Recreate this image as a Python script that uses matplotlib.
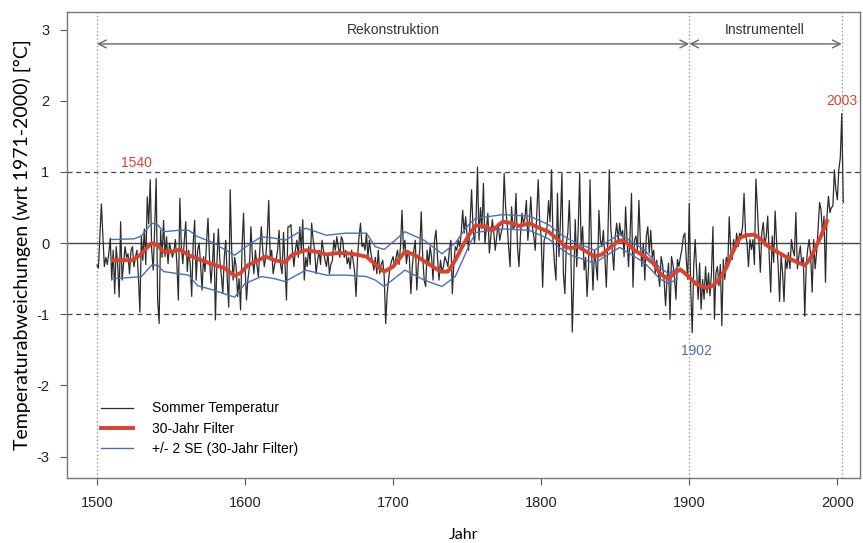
import numpy as np
import matplotlib.pyplot as plt

# Sommertemperatur, Abweichung zu 1971-2000, 1500-2004
years = np.arange(1500, 2005)
temp = [
    -0.31, -0.35, 0.10, 0.55, 0.10, -0.33, -0.20, -0.30, -0.15, 0.07,
    -0.52, -0.10, -0.71, -0.05, -0.30, -0.76, 0.30, -0.52, -0.28, -0.05,
    -0.20, -0.15, -0.43, -0.10, -0.05, -0.33, -0.20, -0.10, -0.47, -0.97,
    0.10, -0.24, 0.20, -0.30, 0.65, 0.27, 0.89, -0.10, -0.38, 0.20,
    0.91, -0.80, -1.13, 0.18, -0.20, 0.32, -0.19, 0.09, -0.29, 0.00,
    -0.10, -0.20, -0.10, 0.05, -0.30, -0.80, 0.63, -0.05, -0.29, 0.04,
    0.30, -0.40, -0.10, -0.30, -0.75, 0.00, 0.32, -0.52, -0.10, 0.00,
    -0.30, -0.66, -0.19, -0.40, 0.00, 0.35, -0.20, -0.56, -0.30, 0.14,
    -1.08, -0.30, 0.20, -0.24, -0.45, -0.71, -0.20, 0.04, -0.50, -0.90,
    0.75, -0.10, -0.52, -0.20, -0.33, -0.75, -0.50, -0.94, -0.05, 0.42,
    -0.30, -0.80, -0.50, -0.33, 0.23, -0.20, -0.43, -0.10, -0.30, -0.47,
    -0.10, 0.23, -0.10, -0.33, -0.20, 0.09, 0.60, -0.20, -0.10, -0.43,
    -0.30, -0.24, -0.10, 0.18, -0.30, -0.43, 0.15, -0.30, -0.80, 0.23,
    0.23, 0.26, -0.10, -0.33, -0.10, 0.04, -0.20, 0.23, -0.10, 0.33,
    -0.52, -0.20, -0.33, -0.05, -0.30, 0.28, 0.05, -0.10, -0.43, -0.25,
    -0.10, -0.30, 0.04, -0.10, -0.24, -0.33, -0.15, -0.43, -0.30, -0.24,
    0.04, -0.10, 0.09, -0.05, -0.20, 0.09, 0.04, -0.20, -0.10, -0.29,
    -0.20, -0.36, -0.10, -0.24, -0.40, -0.75, -0.20, 0.09, 0.28, -0.05,
    0.00, -0.10, 0.14, -0.20, 0.04, -0.14, -0.25, -0.38, -0.20, -0.43,
    -0.10, -0.43, -0.30, -0.24, -0.47, -1.13, -0.71, -0.50, -0.33, -0.25,
    -0.19, -0.33, -0.20, -0.10, -0.30, -0.05, 0.46, -0.10, 0.04, -0.29,
    -0.10, -0.20, -0.71, -0.33, -0.10, 0.04, -0.66, -0.30, -0.10, 0.44,
    -0.20, -0.52, -0.61, -0.10, -0.30, -0.05, -0.20, -0.52, 0.04, 0.18,
    -0.20, -0.52, -0.24, -0.40, -0.33, -0.19, -0.25, -0.33, -0.10, 0.04,
    -0.71, -0.30, -0.05, -0.10, 0.04, -0.05, 0.14, 0.46, 0.14, 0.37,
    0.10, -0.10, 0.30, 0.75, 0.20, 0.00, 0.33, 1.07, 0.04, 0.50,
    0.20, 0.84, 0.00, 0.20, 0.42, -0.14, 0.10, 0.33, 0.15, -0.10,
    0.10, 0.28, 0.04, 0.15, 0.23, 0.98, 0.50, 0.28, -0.05, -0.33,
    0.51, 0.20, 0.23, 0.70, -0.05, -0.33, 0.10, 0.42, 0.28, 0.35,
    0.60, 0.04, 0.30, 0.65, 0.23, 0.10, -0.10, 0.40, 0.89, 0.28,
    0.10, -0.62, 0.04, 0.10, 0.23, 0.60, 0.30, 1.03, 0.04, -0.30,
    -0.52, 0.70, -0.19, 0.30, 0.98, -0.43, -0.71, 0.00, 0.14, 0.60,
    -0.10, -1.25, -0.52, 0.33, -0.33, 0.20, 0.98, -0.05, 0.23, -0.38,
    -0.20, -0.75, -0.33, 0.89, -0.10, -0.66, -0.10, -0.30, -0.52, 0.46,
    0.04, -0.05, 0.18, -0.20, -0.62, 0.04, 1.03, 0.23, -0.10, -0.38,
    0.09, 0.28, 0.04, 0.28, 0.10, 0.18, -0.19, 0.51, 0.04, -0.33,
    0.10, 0.70, -0.62, 0.04, 0.10, -0.10, 0.60, 0.00, -0.33, 0.00,
    -0.52, 0.10, 0.23, -0.14, 0.18, -0.20, -0.10, -0.43, -0.24, -0.40,
    -0.61, -0.19, -0.30, -0.52, -0.88, -0.50, -0.28, -1.07, -0.19, -0.30,
    -0.47, -0.79, -0.23, -0.33, -0.20, -0.09, 0.09, 0.14, -0.23, -0.51,
    0.56, -0.65, -1.26, -0.33, 0.05, -0.40, -0.79, -0.28, -0.93, -0.51,
    -0.79, -0.33, -0.70, -0.42, -0.74, -0.42, 0.23, -1.07, -0.42, -0.33,
    -0.60, -0.30, -1.16, -0.23, -0.51, -0.20, -0.33, 0.37, -0.09, -0.23,
    0.05, -0.10, 0.14, -0.05, 0.14, 0.10, 0.23, 0.70, 0.14, 0.00,
    -0.33, 0.05, -0.09, 0.05, -0.30, 0.90, 0.50, 0.05, -0.41, 0.15,
    0.29, -0.04, 0.10, 0.38, -0.18, -0.69, 0.10, -0.27, 0.45, 0.00,
    -0.30, -0.82, -0.18, -0.41, -0.82, -0.22, -0.36, -0.13, -0.36, 0.05,
    -0.10, -0.18, 0.43, -0.36, -0.18, -0.04, -0.31, -0.20, -1.03, -0.31,
    -0.08, 0.05, -0.18, -0.69, 0.05, -0.36, -0.13, 0.20, 0.57, 0.47,
    0.10, 0.38, -0.55, 0.38, 0.66, 0.43, 0.50, 0.52, 1.03, 0.75,
    0.61, 1.03, 1.20, 1.82, 0.57,
]

# 30-Jahr Filter
filt_years = [1511, 1518, 1524, 1529, 1533, 1537, 1541, 1545, 1551, 1556,
              1562, 1568, 1577, 1586, 1593, 1597, 1602, 1609, 1614, 1620,
              1627, 1632, 1641, 1648, 1655, 1662, 1668, 1675, 1682, 1688,
              1694, 1700, 1708, 1714, 1723, 1732, 1737, 1742, 1748, 1752,
              1756, 1763, 1767, 1774, 1781, 1785, 1792, 1799, 1805, 1812,
              1816, 1820, 1825, 1829, 1836, 1841, 1847, 1853, 1857, 1863,
              1870, 1876, 1880, 1883, 1886, 1890, 1894, 1899, 1905, 1911,
              1916, 1920, 1925, 1929, 1934, 1938, 1944, 1948, 1953, 1960,
              1966, 1973, 1978, 1981, 1984, 1989, 1993]
filt_vals = [-0.24, -0.24, -0.24, -0.17, -0.08, 0.00, -0.03, -0.12, -0.12, -0.09,
             -0.17, -0.22, -0.29, -0.35, -0.46, -0.42, -0.31, -0.24, -0.19, -0.24,
             -0.27, -0.16, -0.10, -0.12, -0.16, -0.14, -0.14, -0.16, -0.19, -0.30,
             -0.40, -0.33, -0.12, -0.16, -0.28, -0.40, -0.40, -0.24, 0.00, 0.14,
             0.25, 0.23, 0.18, 0.30, 0.28, 0.24, 0.28, 0.21, 0.16, 0.04,
             -0.05, -0.07, -0.05, -0.10, -0.19, -0.16, -0.05, 0.04, 0.02, -0.10,
             -0.19, -0.29, -0.42, -0.47, -0.50, -0.42, -0.37, -0.46, -0.58, -0.63,
             -0.60, -0.51, -0.35, -0.14, 0.07, 0.11, 0.12, 0.06, -0.04, -0.13,
             -0.20, -0.27, -0.31, -0.24, -0.12, 0.10, 0.31]

# +/- 2 SE Band
se_years = [1510, 1525, 1530, 1537, 1541, 1545, 1555, 1562, 1568, 1577,
            1593, 1600, 1611, 1620, 1627, 1641, 1655, 1668, 1682, 1688,
            1694, 1708, 1721, 1733, 1742, 1748, 1752, 1756, 1774, 1792,
            1805, 1812, 1820, 1836, 1853, 1870, 1880, 1886, 1892]
se_upper = [0.05, 0.06, 0.10, 0.28, 0.26, 0.16, 0.18, 0.18, 0.09, 0.02,
            -0.17, -0.06, 0.09, 0.07, 0.04, 0.21, 0.11, 0.14, 0.14, -0.05,
            -0.09, 0.16, 0.04, -0.15, 0.00, 0.18, 0.28, 0.35, 0.40, 0.38,
            0.26, 0.14, 0.04, -0.10, 0.13, -0.10, -0.34, -0.43, -0.35]
se_lower = [-0.50, -0.48, -0.47, -0.31, -0.31, -0.40, -0.43, -0.45, -0.60, -0.65,
            -0.76, -0.57, -0.47, -0.50, -0.54, -0.38, -0.45, -0.45, -0.47, -0.52,
            -0.61, -0.38, -0.52, -0.61, -0.47, -0.19, 0.00, 0.15, 0.20, 0.18,
            0.06, -0.06, -0.17, -0.28, -0.06, -0.28, -0.50, -0.57, -0.50]

plt.rcParams['font.family'] = ['Liberation Sans', 'DejaVu Sans']
plt.rcParams['axes.unicode_minus'] = False

fig = plt.figure(figsize=(8.63, 5.43), dpi=100)
ax = fig.add_axes([0.078, 0.12, 0.918, 0.858])

grey = '#555555'

# Hilfslinien
ax.axhline(0, color='#444444', lw=1.0, zorder=1)
for v in [-1, 1]:
    ax.axhline(v, color='#444444', lw=0.9, ls=(0, (4, 3)), zorder=1)
for yr in [1500, 1900, 2003]:
    ax.axvline(yr, color='#888888', lw=0.9, ls=(0, (1, 2)), zorder=1)

# Daten
ax.plot(years, temp, color='#2b2b2b', lw=0.9, zorder=2, label='Sommer Temperatur')
ax.plot(filt_years, filt_vals, color='#d9432e', lw=2.8, zorder=4, label='30-Jahr Filter',
        solid_joinstyle='round')
ax.plot(se_years, se_upper, color='#4a6fb5', lw=1.0, zorder=3, label='+/- 2 SE (30-Jahr Filter)')
ax.plot(se_years, se_lower, color='#4a6fb5', lw=1.0, zorder=3)

# Pfeile oben
arr = dict(arrowstyle='<->', color='#666666', lw=1.0, shrinkA=0, shrinkB=0,
           mutation_scale=14)
ax.annotate('', xy=(1500, 2.8), xytext=(1900, 2.8), arrowprops=arr)
ax.annotate('', xy=(1900, 2.8), xytext=(2003, 2.8), arrowprops=arr)
ax.text(1700, 3.0, 'Rekonstruktion', ha='center', va='center', fontsize=10, color='#333333')
ax.text(1951, 3.0, 'Instrumentell', ha='center', va='center', fontsize=10, color='#333333')

# Extremjahre
ax.text(1527, 1.13, '1540', color='#d9432e', fontsize=10, ha='center', va='center')
ax.text(2003, 2.0, '2003', color='#d9432e', fontsize=10, ha='center', va='center')
ax.text(1905, -1.52, '1902', color='#4a6fb5', fontsize=10, ha='center', va='center')

ax.set_xlim(1480, 2015)
ax.set_ylim(-3.3, 3.25)
ax.set_xticks([1500, 1600, 1700, 1800, 1900, 2000])
ax.set_yticks([-3, -2, -1, 0, 1, 2, 3])
ax.tick_params(direction='out', length=5, color=grey, labelsize=10.5, labelcolor='#222222', pad=8)

for s in ax.spines.values():
    s.set_color('#777777')
    s.set_linewidth(1.0)

ax.set_xlabel('Jahr', fontsize=11.5, family='Lato', labelpad=13)
ax.set_ylabel('Temperaturabweichungen (wrt 1971-2000) [°C]', fontsize=14, family='Lato', labelpad=4)

leg = ax.legend(loc='lower left', bbox_to_anchor=(0.035, 0.035), frameon=False, fontsize=10,
                handlelength=2.3, handletextpad=1.4, labelspacing=0.45, borderaxespad=0)

fig.savefig('out.png', dpi=100)
